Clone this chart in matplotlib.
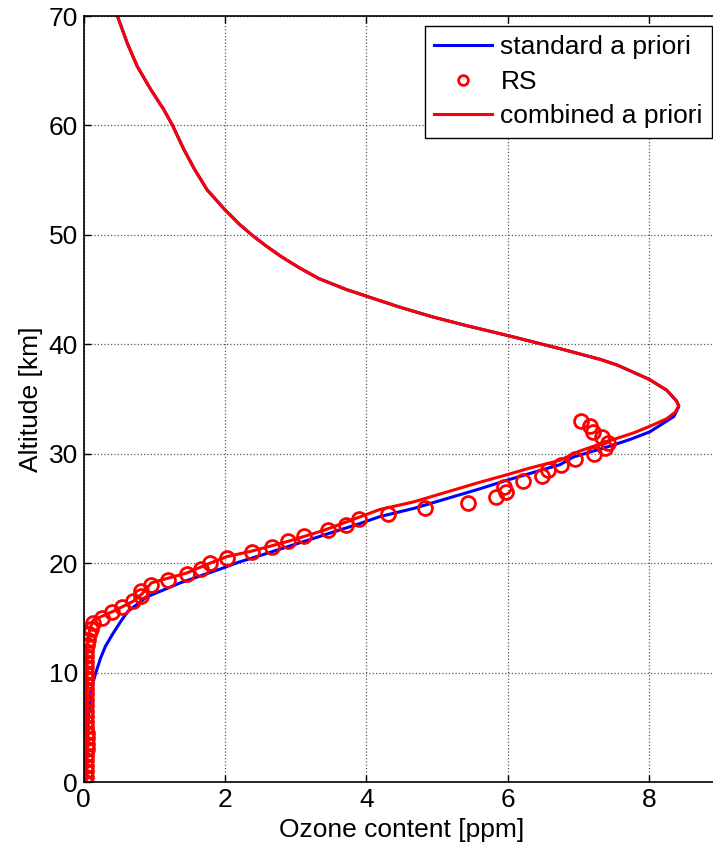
import matplotlib
matplotlib.use('Agg')
import matplotlib.pyplot as plt
from matplotlib.lines import Line2D

plt.rcParams['font.family'] = ['Liberation Sans', 'DejaVu Sans']

# perfil comun por encima del maximo (km, ppm)
alt_arriba = [70, 67.5, 65.4, 63.3, 61.4, 60, 57.8, 56, 54.1, 52.3, 51, 50, 49,
              48, 47, 46, 45, 44.4, 43.4, 42.5, 41.7, 40.8, 39.6, 38.6, 38.1,
              36.8, 35.8, 34.8]
o3_arriba = [0.48, 0.62, 0.76, 0.95, 1.14, 1.26, 1.42, 1.57, 1.75, 2.0, 2.2, 2.38,
             2.58, 2.8, 3.05, 3.33, 3.72, 4.0, 4.47, 4.94, 5.42, 6.0, 6.74, 7.32,
             7.55, 8.0, 8.25, 8.39]

# a priori estandar por debajo del maximo
alt_std = [34.3, 33.4, 32.0, 31.3, 30.6, 29.7, 29.0, 27.6, 26.8, 25.9, 25.0, 24.25,
           23.6, 20.7, 20.1, 19.5, 18.2, 16.9, 15.6, 14.8, 13.6, 12.4, 11.3, 10.1,
           9, 8, 6, 3, 0]
o3_std = [8.42, 8.35, 8.01, 7.73, 7.4, 6.93, 6.74, 6.0, 5.61, 5.14, 4.67, 4.19,
          3.9, 2.5, 2.2, 1.95, 1.37, 0.89, 0.63, 0.54, 0.42, 0.31, 0.24, 0.18,
          0.13, 0.1, 0.07, 0.05, 0.03]

# a priori combinado por debajo del maximo
alt_comb = [34.4, 33.8, 33.2, 32.5, 31.9, 31.1, 30.2, 29.4, 28.7, 28.1, 27.4, 26.5,
            25.6, 24.9, 24.2, 23.0, 22.0, 21.1, 20.6, 20.0, 19.1, 18.2, 17.2, 16.5,
            15.6, 14.8, 14.0, 13.0, 12.0, 0]
o3_comb = [8.42, 8.37, 8.25, 8.01, 7.78, 7.40, 7.0, 6.74, 6.32, 6.0, 5.61, 5.14,
           4.67, 4.19, 3.9, 3.4, 2.9, 2.38, 2.03, 1.79, 1.46, 0.96, 0.83, 0.70,
           0.42, 0.14, 0.09, 0.06, 0.045, 0.04]

# radiosonda
alt_rs = [0, 0.5, 1, 1.5, 2, 2.5, 3, 3.5, 4, 4.5, 5, 5.5, 6, 6.5, 7, 7.5, 8, 8.5,
          9, 9.5, 10, 10.5, 11, 11.5, 12, 12.5, 13, 13.5, 14, 14.5, 15, 15.5, 16,
          16.5, 17, 17.5, 18, 18.5, 19, 19.5, 20, 20.5, 21, 21.5, 22, 22.5, 23,
          23.5, 24, 24.5, 25, 25.5, 26, 26.5, 27, 27.5, 28, 28.5, 29, 29.5, 30,
          30.5, 31, 31.5, 32, 32.5, 33]
o3_rs = [0.02, 0.03, 0.03, 0.04, 0.04, 0.04, 0.05, 0.05, 0.05, 0.05, 0.04, 0.04,
         0.04, 0.04, 0.04, 0.04, 0.04, 0.04, 0.04, 0.04, 0.04, 0.04, 0.04, 0.04,
         0.04, 0.05, 0.06, 0.08, 0.10, 0.14, 0.26, 0.41, 0.55, 0.70, 0.81, 0.82,
         0.96, 1.20, 1.46, 1.66, 1.79, 2.03, 2.38, 2.67, 2.89, 3.12, 3.46, 3.71,
         3.89, 4.30, 4.83, 5.44, 5.84, 5.98, 5.95, 6.21, 6.49, 6.57, 6.76, 6.95,
         7.22, 7.37, 7.42, 7.33, 7.21, 7.17, 7.04]

fig = plt.figure(figsize=(7.13, 8.48), dpi=100)
# el eje llega hasta 9 ppm y queda cortado por el borde derecho
ax = fig.add_axes([83.5 / 713, 66 / 848, 9 * 70.7 / 713, 766 / 848])

ax.plot(o3_arriba + o3_std, alt_arriba + alt_std, color='b', lw=2.2)
ax.plot(o3_rs, alt_rs, ls='none', marker='o', ms=10, mfc='none', mec='r', mew=2)
ax.plot(o3_arriba + o3_comb, alt_arriba + alt_comb, color='r', lw=2.2)

ax.set_xlim(0, 9)
ax.set_ylim(0, 70)
ax.set_xticks([0, 2, 4, 6, 8])
ax.set_yticks([0, 10, 20, 30, 40, 50, 60, 70])
ax.grid(True, linestyle=':', color='0.35', linewidth=0.9)
ax.tick_params(direction='in', top=True, right=True, length=5, width=1,
               labelsize=19, pad=4)
for s in ax.spines.values():
    s.set_linewidth(1.2)

ax.set_xlabel('Ozone content [ppm]', fontsize=19, labelpad=5)
ax.set_ylabel('Altitude [km]', fontsize=19, labelpad=4)

handles = [
    Line2D([], [], color='b', lw=2.2),
    Line2D([], [], ls='none', marker='o', ms=7, mfc='none', mec='r', mew=2),
    Line2D([], [], color='r', lw=2.2),
]
leg = ax.legend(handles, ['standard a priori', 'RS', 'combined a priori'],
                loc='upper right', bbox_to_anchor=(712 / 713, 1 - 26 / 848),
                bbox_transform=fig.transFigure, fontsize=19, fancybox=False,
                framealpha=1, edgecolor='k', borderpad=0.35, labelspacing=0.4,
                handlelength=2.2, handletextpad=0.3, borderaxespad=0)
leg.get_frame().set_linewidth(1.0)

fig.savefig('out.png', dpi=100)
